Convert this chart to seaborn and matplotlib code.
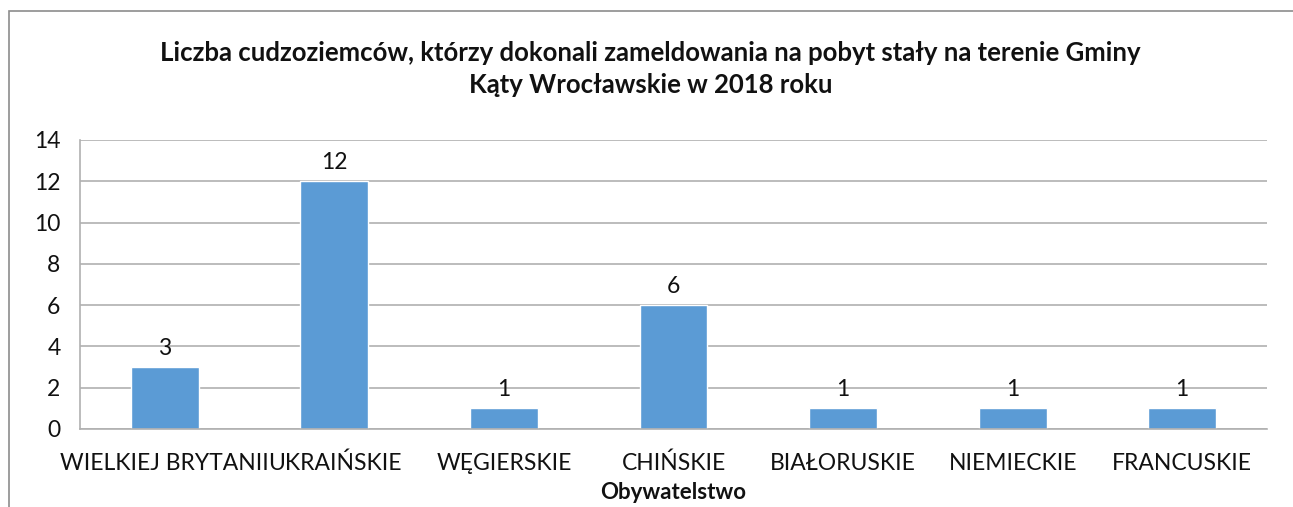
import numpy as np
import pandas as pd
import matplotlib
matplotlib.use("Agg")
import matplotlib.pyplot as plt
from matplotlib.patches import Rectangle
from matplotlib.ticker import FixedLocator
import seaborn as sns

CATEGORIES = ["WIELKIEJ BRYTANII", "UKRAIŃSKIE", "WĘGIERSKIE", "CHIŃSKIE",
              "BIAŁORUSKIE", "NIEMIECKIE", "FRANCUSKIE"]
COUNTS = [3, 12, 1, 6, 1, 1, 1]
TITLE = ("Liczba cudzoziemców, którzy dokonali zameldowania na pobyt stały na terenie Gminy\n"
         "Kąty Wrocławskie w 2018 roku")
XLABEL = "Obywatelstwo"

BAR_COLOR = "#5b9bd5"
GRID_COLOR = "#b0b0b0"

sns.set_theme(style="white")
plt.rcParams["font.family"] = ["Lato", "DejaVu Sans"]

df = pd.DataFrame({"obywatelstwo": CATEGORIES, "liczba": COUNTS})

fig = plt.figure(figsize=(12.93, 5.07), dpi=100)
ax = fig.add_axes([0.0619, 0.154, 0.918, 0.570])

sns.barplot(data=df, x="obywatelstwo", y="liczba", color=BAR_COLOR,
            saturation=1, width=0.4, ax=ax)

ax.set_xlim(-0.5, len(CATEGORIES) - 0.5)
ax.set_ylim(0, 14)
ax.set_yticks(np.arange(0, 15, 2))
ax.yaxis.grid(True, color=GRID_COLOR, linewidth=1.2)
ax.set_axisbelow(True)

for s in ["top", "right"]:
    ax.spines[s].set_visible(False)
for s in ["left", "bottom"]:
    ax.spines[s].set_color(GRID_COLOR)
    ax.spines[s].set_linewidth(1.2)

ax.tick_params(axis="y", which="major", length=6, color=GRID_COLOR,
               labelsize=16.5, pad=8, labelcolor="#111111")
ax.tick_params(axis="x", which="major", length=0, labelsize=16.5, pad=17,
               labelcolor="#111111")
ax.xaxis.set_minor_locator(FixedLocator(np.arange(-0.5, len(CATEGORIES), 1)))
ax.tick_params(axis="x", which="minor", length=6, color=GRID_COLOR, width=1.2)

for i, v in enumerate(COUNTS):
    ax.annotate(str(v), (i, v), xytext=(0, 6), textcoords="offset points",
                ha="center", va="bottom", fontsize=16.5, color="#111111")

ax.set_xlabel(XLABEL, fontsize=16, fontweight="bold", labelpad=6,
              color="#111111")
ax.set_ylabel("")
fig.text(0.503, 0.864, TITLE, ha="center", va="center", fontsize=18.5,
         fontweight="bold", linespacing=1.42, color="#111111")

# outer chart frame (cropped in the source)
fig.patches.append(Rectangle((9 / 1293, -0.1), 1.2, 0.1 + (507 - 11) / 507,
                             transform=fig.transFigure, fill=False,
                             edgecolor="#8c8c8c", linewidth=1.2))

fig.savefig("out.png", dpi=100, facecolor="white")
